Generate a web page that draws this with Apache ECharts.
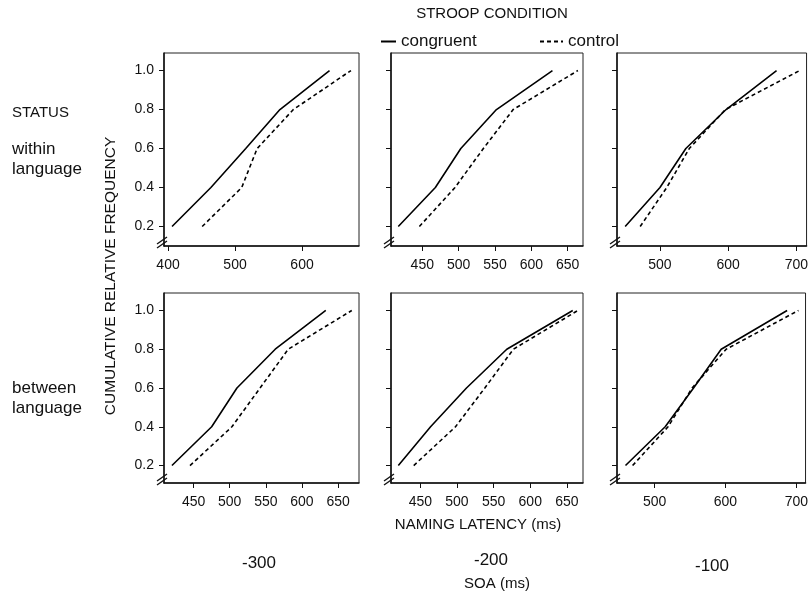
<!DOCTYPE html>
<html><head><meta charset="utf-8">
<script src="https://cdn.jsdelivr.net/npm/echarts@6/dist/echarts.min.js"></script>
<style>html,body{margin:0;padding:0;background:#fff}#c{width:811px;height:596px}</style>
</head><body><div id="c"></div>
<script>
// ---- data ----
const yLevels = [0.2, 0.4, 0.6, 0.8, 1.0];
// panels: row 0 = within language, row 1 = between language; cols = SOA -300, -200, -100
const congruentX = [
  [406, 464, 516, 567, 641],
  [417, 468, 503, 552, 629],
  [449, 500, 538, 597, 671],
  [420, 475, 510, 563, 633],
  [420, 464, 513, 568, 658],
  [459, 515, 555, 594, 687]
];
const controlX = [
  [451, 510, 533, 587, 673],
  [446, 495, 534, 575, 664],
  [471, 510, 543, 596, 705],
  [445, 503, 542, 581, 669],
  [441, 498, 538, 577, 665],
  [469, 519, 553, 601, 703]
];
const xMin = [394, 407, 437, 409, 410, 447];
const xMax = [685, 671, 715, 679, 672, 713];
const xTicks = [
  [400, 500, 600],
  [450, 500, 550, 600, 650],
  [500, 600, 700],
  [450, 500, 550, 600, 650],
  [450, 500, 550, 600, 650],
  [500, 600, 700]
];
const yTicks = [0.2, 0.4, 0.6, 0.8, 1.0];
const yMinRow = [0.1, 0.11];
const yMaxRow = [1.09, 1.09];
const soaLabels = ['-300', '-200', '-100'];
const statusLabels = [['within', 'language'], ['between', 'language']];
const seriesNames = ['congruent', 'control'];

// ---- layout ----
const FONT = '"Liberation Sans", Arial, Helvetica, sans-serif';
const cols = [{left: 164, width: 195}, {left: 391, width: 192}, {left: 617, width: 196}];
const rows = [{top: 53, height: 193}, {top: 293, height: 190}];
const ink = '#111';

const grids = [], xAxes = [], yAxes = [], series = [];
for (let i = 0; i < 6; i++) {
  const r = Math.floor(i / 3), c = i % 3;
  grids.push({left: cols[c].left, width: cols[c].width, top: rows[r].top, height: rows[r].height,
    show: true, borderColor: '#222', borderWidth: 1, backgroundColor: 'transparent', containLabel: false});
  xAxes.push({type: 'value', gridIndex: i, min: xMin[i], max: xMax[i],
    axisLine: {show: true, onZero: false, lineStyle: {color: ink, width: 1.5}},
    axisTick: {show: true, customValues: xTicks[i], length: 5, lineStyle: {color: ink, width: 1}},
    axisLabel: {show: true, customValues: xTicks[i], margin: 12, fontSize: 14, color: ink, fontFamily: FONT},
    splitLine: {show: false}});
  yAxes.push({type: 'value', gridIndex: i, min: yMinRow[r], max: yMaxRow[r],
    axisLine: {show: true, onZero: false, lineStyle: {color: ink, width: 1.5}},
    axisTick: {show: true, customValues: yTicks, length: 5, lineStyle: {color: ink, width: 1}},
    axisLabel: {show: c === 0, customValues: yTicks, margin: 10, fontSize: 14, color: ink, fontFamily: FONT,
      formatter: v => v.toFixed(1)},
    splitLine: {show: false}});
  series.push({type: 'line', name: seriesNames[0], xAxisIndex: i, yAxisIndex: i, symbol: 'none',
    data: congruentX[i].map((x, k) => [x, yLevels[k]]),
    lineStyle: {color: '#000', width: 1.6}, itemStyle: {color: '#000'}});
  series.push({type: 'line', name: seriesNames[1], xAxisIndex: i, yAxisIndex: i, symbol: 'none',
    data: controlX[i].map((x, k) => [x, yLevels[k]]),
    lineStyle: {color: '#000', width: 1.6, type: [4, 3]}, itemStyle: {color: '#000'}});
}

const txt = (x, y, s, size, align, extra) => Object.assign({type: 'text', x, y,
  style: {text: s, fontSize: size, fontFamily: FONT, fill: ink, align: align || 'left', verticalAlign: 'middle'}}, extra || {});

const graphics = [
  txt(492, 14, 'STROOP CONDITION', 15, 'center'),
  txt(12, 113, 'STATUS', 15),
  txt(12, 149, statusLabels[0][0], 17),
  txt(12, 169, statusLabels[0][1], 17),
  txt(12, 388, statusLabels[1][0], 17),
  txt(12, 408, statusLabels[1][1], 17),
  {type: 'text', x: 111, y: 276, rotation: Math.PI / 2,
    style: {text: 'CUMULATIVE RELATIVE FREQUENCY', fontSize: 15.5, fontFamily: FONT, fill: ink, align: 'center', verticalAlign: 'middle'}},
  txt(478, 525, 'NAMING LATENCY (ms)', 15, 'center'),
  txt(259, 563, soaLabels[0], 17, 'center'),
  txt(491, 560, soaLabels[1], 17, 'center'),
  txt(712, 566, soaLabels[2], 17, 'center'),
  txt(497, 584, 'SOA (ms)', 15, 'center')
];

const legendCommon = {top: 28, itemHeight: 10, selectedMode: false,
  itemStyle: {color: 'transparent', borderColor: 'transparent', borderWidth: 0, opacity: 0},
  textStyle: {fontSize: 17, color: ink, fontFamily: FONT}};

const chart = echarts.init(document.getElementById('c'), null, {renderer: 'canvas'});
chart.setOption({
  animation: false,
  backgroundColor: '#fff',
  color: ['#000', '#000'],
  legend: [
    Object.assign({data: [seriesNames[0]], left: 375, itemWidth: 15}, legendCommon),
    Object.assign({data: [seriesNames[1]], left: 534, itemWidth: 23}, legendCommon)
  ],
  grid: grids, xAxis: xAxes, yAxis: yAxes, series: series,
  graphic: graphics
});

// axis-break marks at each panel's lower-left corner
const breaks = [];
for (let i = 0; i < 6; i++) {
  const r = Math.floor(i / 3);
  const p = chart.convertToPixel({gridIndex: i}, [xMin[i], yMinRow[r]]);
  const cx = p[0], cy = p[1] - 4;
  breaks.push({type: 'line', shape: {x1: cx - 7, y1: cy + 2, x2: cx + 3, y2: cy - 5}, style: {stroke: ink, lineWidth: 1.4}});
  breaks.push({type: 'line', shape: {x1: cx - 7, y1: cy + 6, x2: cx + 3, y2: cy - 1}, style: {stroke: ink, lineWidth: 1.4}});
}
chart.setOption({graphic: graphics.concat(breaks)});
</script>
</body></html>
